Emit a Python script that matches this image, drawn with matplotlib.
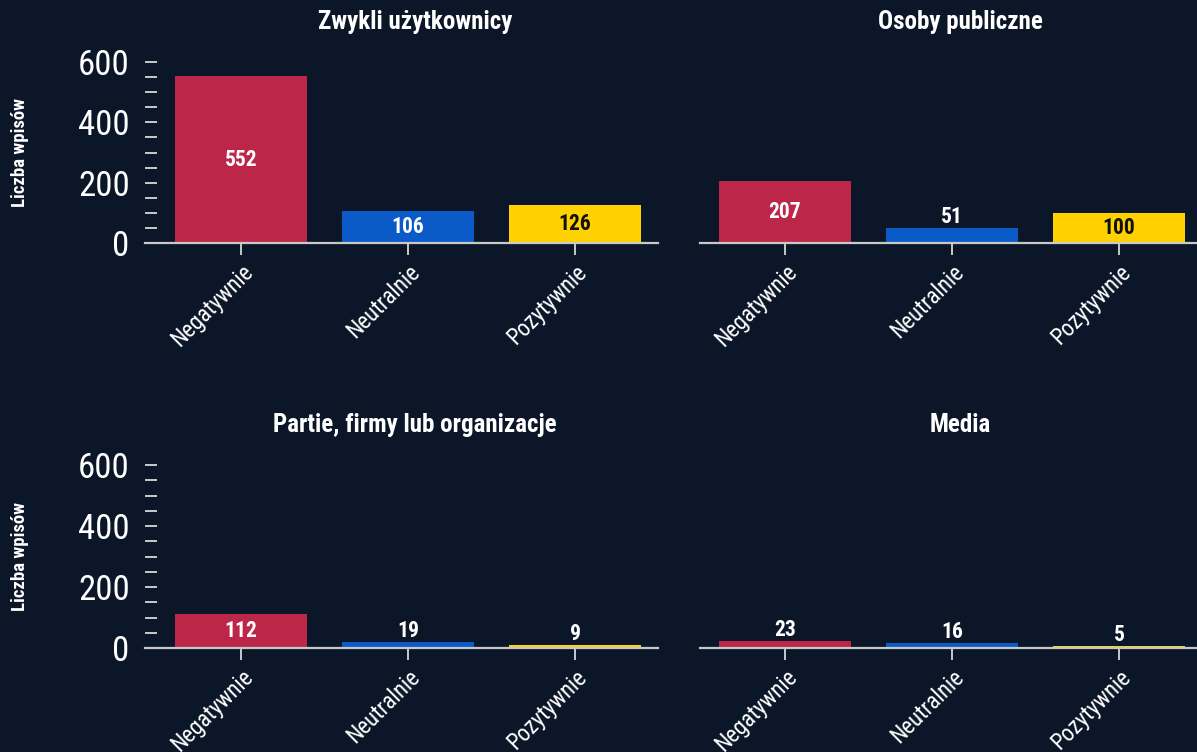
import matplotlib
matplotlib.use("Agg")
import matplotlib.pyplot as plt
from matplotlib.ticker import MultipleLocator

plt.rcParams['font.family'] = ['Roboto Condensed', 'Liberation Sans Narrow', 'Roboto', 'DejaVu Sans']

categories = ["Negatywnie", "Neutralnie", "Pozytywnie"]
panel_titles = ["Zwykli użytkownicy", "Osoby publiczne",
                "Partie, firmy lub organizacje", "Media"]
users = [552, 106, 126]
public_figures = [207, 51, 100]
organizations = [112, 19, 9]
media = [23, 16, 5]
panel_values = [users, public_figures, organizations, media]
y_label = "Liczba wpisów"

BG = "#0b1729"
bar_colors = ["#bc2649", "#0a5bc8", "#ffd100"]
inner_text_colors = ["white", "white", "#111111"]
AXC = "#c9c9c9"

W, H = 1197, 752
fig = plt.figure(figsize=(W / 100, H / 100), dpi=100, facecolor=BG)

def px_axes(x0, x1, ytop, ybot):
    return [x0 / W, 1 - ybot / H, (x1 - x0) / W, (ybot - ytop) / H]

rects = [
    px_axes(145, 658, 62, 243),
    px_axes(700, 1213, 62, 243),
    px_axes(145, 658, 465, 648),
    px_axes(700, 1213, 465, 648),
]
title_x = [0.526, 0.507, 0.526, 0.507]

for i, (rect, title, vals) in enumerate(zip(rects, panel_titles, panel_values)):
    ax = fig.add_axes(rect)
    ax.set_facecolor(BG)
    x = list(range(len(categories)))
    ax.bar(x, vals, width=0.79, color=bar_colors, zorder=2)
    left_col = (i % 2 == 0)
    if left_col:
        ax.set_xlim(-0.575, 2.497)
    else:
        ax.set_xlim(-0.509, 2.563)
    ax.set_ylim(0, 600)
    for s in ["top", "right", "left"]:
        ax.spines[s].set_visible(False)
    ax.spines["bottom"].set_color(AXC)
    ax.spines["bottom"].set_linewidth(1.6)
    ax.spines["bottom"].set_zorder(3)
    ax.set_xticks(x)
    ax.set_xticklabels(categories, rotation=45, ha="right", va="top",
                       rotation_mode="anchor", fontsize=16.5, color="white")
    ax.tick_params(axis="x", length=8.5, width=1.4, color=AXC, pad=4)
    ax.yaxis.set_major_locator(MultipleLocator(200))
    ax.yaxis.set_minor_locator(MultipleLocator(50))
    if left_col:
        ax.tick_params(axis="y", which="both", direction="in", length=8.5, width=1.4,
                       color=AXC, labelsize=25, labelcolor="white", pad=11)
        ax.set_ylabel(y_label, color="white", fontsize=13.5, fontweight="bold")
        ax.yaxis.set_label_coords(-0.226, 0.5)
    else:
        ax.tick_params(axis="y", which="both", length=0, labelleft=False)
    ax.set_title(title, color="white", fontsize=18, fontweight="bold", x=title_x[i], pad=24)
    for xi, v, tc in zip(x, vals, inner_text_colors):
        if v >= 90:
            ax.text(xi, v / 2, str(v), ha="center", va="center", color=tc,
                    fontsize=15.5, fontweight="bold", zorder=4)
        else:
            ax.annotate(str(v), (xi, v), xytext=(0, 0), textcoords="offset points",
                        ha="center", va="bottom", color="white",
                        fontsize=15.5, fontweight="bold", zorder=4)

fig.savefig("out.png", dpi=100, facecolor=BG)
